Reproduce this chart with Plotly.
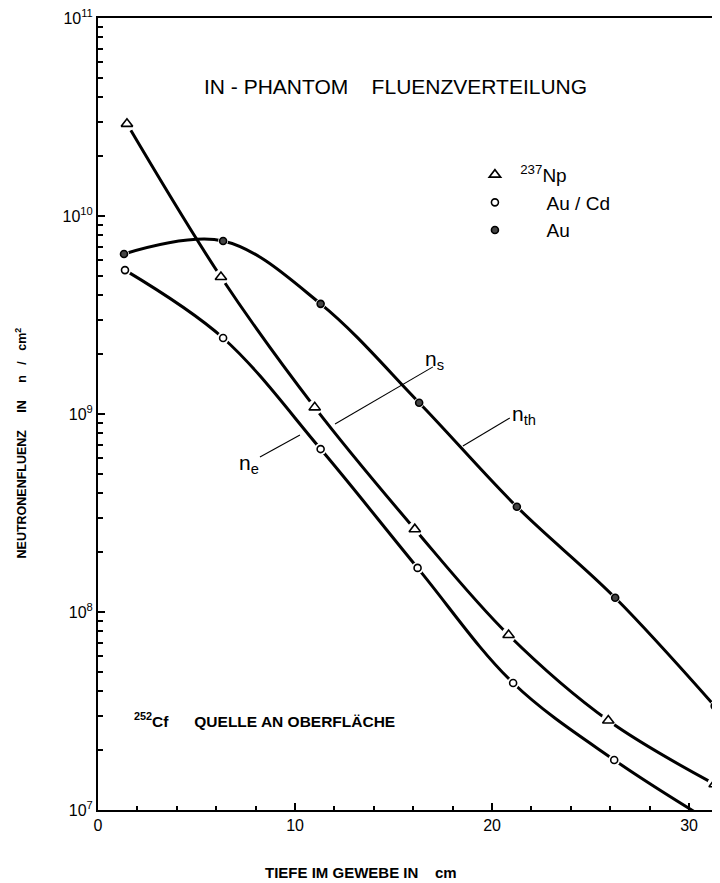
import numpy as np
import plotly.graph_objects as go

# ---------------- data ----------------
depth_np = [1.47, 6.24, 11.0, 16.08, 20.84, 25.9, 31.3]
fluence_np = [2.92e10, 4.92e9, 1.08e9, 2.62e8, 7.65e7, 2.83e7, 1.35e7]

depth_aucd = [1.37, 6.35, 11.3, 16.22, 21.07, 26.2, 31.37]
fluence_aucd = [5.33e9, 2.42e9, 6.65e8, 1.67e8, 4.38e7, 1.79e7, 8.4e6]

depth_au = [1.32, 6.35, 11.3, 16.3, 21.26, 26.25, 31.3]
fluence_au = [6.43e9, 7.48e9, 3.6e9, 1.14e9, 3.4e8, 1.18e8, 3.35e7]

x_tickvals = [0, 10, 20, 30]
x_minor = [2, 4, 6, 8, 12, 14, 16, 18, 22, 24, 26, 28]
y_tickvals = [1e7, 1e8, 1e9, 1e10, 1e11]
y_ticktext = ["10<sup>7</sup>", "10<sup>8</sup>", "10<sup>9</sup>",
              "10<sup>10</sup>", "10<sup>11</sup>"]
y_minor = [m * 10 ** e for e in range(7, 11) for m in range(2, 10)]

# leader lines for curve labels
lead_e_x, lead_e_y = [8.22, 10.25], [6.07e8, 7.84e8]
lead_s_x, lead_s_y = [12.03, 17.0], [8.9e8, 1.73e9]
lead_th_x, lead_th_y = [18.52, 20.9], [6.89e8, 9.55e8]

# curve label anchors (x, y value)
lab_e = (7.05, 5.6e8)
lab_s = (16.5, 1.88e9)
lab_th = (20.9, 9.9e8)

FONT = "Liberation Sans, Arial, Helvetica, sans-serif"

series = [
    ("\u00a0<sup>237</sup>Np", depth_np, fluence_np,
     dict(symbol="triangle-up-open", size=10, color="black", line=dict(color="black", width=1.6)), 15),
    ("\u00a0\u00a0\u00a0\u00a0\u00a0\u00a0Au / Cd", depth_aucd, fluence_aucd,
     dict(symbol="circle-open", size=7, color="black", line=dict(color="black", width=1.6)), 12),
    ("\u00a0\u00a0\u00a0\u00a0\u00a0\u00a0Au", depth_au, fluence_au,
     dict(symbol="circle", size=7, color="#444444", line=dict(color="black", width=1.6)), 10),
]

fig = go.Figure()

for name, x, y, mk, halo in series:
    fig.add_trace(go.Scatter(
        x=x, y=y, mode="lines",
        line=dict(color="black", width=3, shape="spline", smoothing=1.0),
        showlegend=False, hoverinfo="skip"))

for name, x, y, mk, halo in series:
    fig.add_trace(go.Scatter(
        x=x, y=y, mode="markers", cliponaxis=False,
        marker=dict(symbol="circle", size=halo, color="white", line=dict(width=0)),
        showlegend=False, hoverinfo="skip"))

for name, x, y, mk, halo in series:
    fig.add_trace(go.Scatter(
        x=x, y=y, mode="markers", cliponaxis=False, name=name,
        marker=mk, showlegend=True))

for lx, ly in [(lead_e_x, lead_e_y), (lead_s_x, lead_s_y), (lead_th_x, lead_th_y)]:
    fig.add_trace(go.Scatter(
        x=lx, y=ly, mode="lines", line=dict(color="black", width=1.1),
        showlegend=False, hoverinfo="skip"))

annotations = [
    dict(text="IN\u00a0-\u00a0PHANTOM\u00a0\u00a0\u00a0\u00a0FLUENZVERTEILUNG",
         xref="paper", yref="paper", x=0.4783, y=0.9141,
         xanchor="center", yanchor="middle", showarrow=False,
         font=dict(size=21, family=FONT, color="black")),
    dict(text="<b><sup>252</sup>Cf\u00a0\u00a0\u00a0\u00a0\u00a0\u00a0QUELLE AN OBERFLÄCHE</b>",
         xref="paper", yref="paper", x=0.0547, y=0.1136,
         xanchor="left", yanchor="middle", showarrow=False,
         font=dict(size=15.5, family=FONT, color="black")),
    dict(text="<b>TIEFE IM GEWEBE IN\u00a0\u00a0\u00a0\u00a0cm</b>",
         xref="paper", yref="paper", x=0.4236, y=-0.079,
         xanchor="center", yanchor="middle", showarrow=False,
         font=dict(size=15, family=FONT, color="black")),
    dict(text="<b>NEUTRONENFLUENZ\u00a0\u00a0\u00a0\u00a0\u00a0IN\u00a0\u00a0\u00a0\u00a0\u00a0n\u00a0\u00a0\u00a0/\u00a0\u00a0\u00a0cm<sup>2</sup></b>",
         xref="paper", yref="paper", x=-0.1238, y=0.3157, textangle=-90,
         xanchor="center", yanchor="bottom", showarrow=False,
         font=dict(size=12.5, family=FONT, color="black")),
]
for (lx, ly), t in [(lab_e, "n<sub>e</sub>"), (lab_s, "n<sub>s</sub>"), (lab_th, "n<sub>th</sub>")]:
    annotations.append(dict(text=t, x=lx, y=float(np.log10(ly)), xref="x", yref="y",
                            xanchor="left", yanchor="middle", showarrow=False,
                            font=dict(size=21, family=FONT, color="black")))

# the page has an 8 px body margin; figure is sized so the plot area lands where the reference has it
fig.update_layout(
    width=712, height=875,
    margin=dict(l=90, r=0, t=10, b=73, pad=0),
    paper_bgcolor="white", plot_bgcolor="white",
    font=dict(family=FONT, color="black"),
    xaxis=dict(range=[0, 31.57], tickmode="array", tickvals=x_tickvals,
               ticks="inside", ticklen=7, tickwidth=2, tickcolor="black",
               showline=True, linecolor="black", linewidth=2, mirror=True,
               showgrid=False, zeroline=False, tickfont=dict(size=16),
               ticklabeloverflow="allow",
               minor=dict(tickmode="array", tickvals=x_minor, ticks="inside",
                          ticklen=4, tickwidth=1.5, tickcolor="black", showgrid=False)),
    yaxis=dict(type="log", range=[7, 11], tickmode="array", tickvals=y_tickvals,
               ticktext=y_ticktext, ticks="inside", ticklen=7, tickwidth=2,
               tickcolor="black", showline=True, linecolor="black", linewidth=2,
               showgrid=False, zeroline=False, tickfont=dict(size=16),
               ticklabeloverflow="allow",
               minor=dict(tickmode="array", tickvals=y_minor, ticks="inside",
                          ticklen=5, tickwidth=1.5, tickcolor="black", showgrid=False)),
    showlegend=True,
    legend=dict(x=0.606, y=0.826, xanchor="left", yanchor="top",
                bgcolor="rgba(0,0,0,0)", borderwidth=0,
                font=dict(size=19, family=FONT, color="black")),
    annotations=annotations,
)

fig.write_html("out.html")
